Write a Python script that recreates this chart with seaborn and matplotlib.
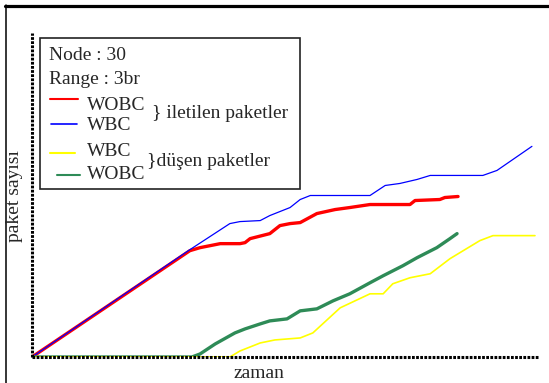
import matplotlib
matplotlib.use("Agg")
import matplotlib.pyplot as plt
from matplotlib.lines import Line2D
from matplotlib.patches import Rectangle
import seaborn as sns
import pandas as pd

# Delivered packets (iletilen) and dropped packets (düşen) over time
wobc_sent_t = [0, 31.2, 33.2, 37.2, 41.1, 42.1, 43.1, 47.0, 49.0, 51.0, 53.0,
               56.3, 59.9, 62.8, 66.8, 74.7, 75.7, 80.6, 81.6, 84.2]
wobc_sent_y = [0, 106, 109, 113, 113, 114, 118, 123, 131, 133, 134,
               143, 147, 149, 152, 152, 156, 157, 159, 160]

wbc_sent_t = [0, 31.2, 39.1, 41.1, 45.1, 47.0, 51.0, 53.0, 55.0, 66.8,
              69.8, 72.7, 76.1, 78.7, 89.1, 91.9, 98.8]
wbc_sent_y = [0, 107, 133, 135, 136, 141, 149, 157, 161, 161,
              171, 173, 177, 181, 181, 186, 210]

wobc_drop_t = [0, 31.6, 33.2, 36.2, 40.1, 42.1, 45.1, 47.0, 50.4, 53.0, 56.3,
               59.5, 62.8, 66.8, 69.4, 73.3, 76.1, 80.0, 82.6, 84.0]
wobc_drop_y = [0, 0, 3, 13, 24, 28, 33, 36, 38, 46, 48,
               56, 63, 74, 81, 91, 99, 109, 118, 123]

wbc_drop_t = [0, 39.1, 41.1, 45.1, 48.0, 53.0, 55.5, 60.9, 66.8, 69.4,
              71.3, 74.7, 78.7, 82.6, 88.5, 91.1, 99.4]
wbc_drop_y = [0, 0, 6, 14, 17, 19, 24, 49, 63, 63,
              73, 79, 83, 98, 116, 121, 121]

RED, BLUE, YELLOW, GREEN = "#ff0000", "#0000ff", "#ffff00", "#2e8b57"

sns.set_style("white")
plt.rcParams["font.family"] = ["Liberation Serif", "DejaVu Serif"]

W, H = 549, 383
fig = plt.figure(figsize=(W / 100, H / 100), dpi=100)
ax = fig.add_axes([32 / W, 1 - 357 / H, 506 / W, 324 / H])

series = [
    (wobc_sent_t, wobc_sent_y, RED, 2.4),
    (wbc_sent_t, wbc_sent_y, BLUE, 0.9),
    (wobc_drop_t, wobc_drop_y, GREEN, 2.4),
    (wbc_drop_t, wbc_drop_y, YELLOW, 1.2),
]
for t, y, c, lw in series:
    df = pd.DataFrame({"zaman": t, "paket": y})
    sns.lineplot(data=df, x="zaman", y="paket", color=c, linewidth=lw,
                 sort=False, estimator=None, ax=ax)

ax.set_xlim(0, 100)
ax.set_ylim(0, 323)
ax.set_xticks([])
ax.set_yticks([])
ax.set_xlabel("")
ax.set_ylabel("")
for side in ("top", "right"):
    ax.spines[side].set_visible(False)
for side in ("left", "bottom"):
    sp = ax.spines[side]
    sp.set_color("black")
    sp.set_linewidth(2.2)
    sp.set_linestyle((0, (0.9, 0.45)))
    sp.set_capstyle("butt")


def fx(px):
    return px / W


def fy(py):
    return 1 - py / H


fs = 14
fig.text(fx(259), fy(373), "zaman", fontsize=fs, ha="center", va="center")
fig.text(fx(15), fy(196), "paket sayısı", fontsize=fs, ha="center",
         va="center", rotation=90)

# outer frame
fig.add_artist(Line2D([fx(5), fx(549)], [fy(5.5), fy(5.5)], color="black",
                      linewidth=2.3, transform=fig.transFigure))
fig.add_artist(Line2D([fx(6), fx(6)], [fy(5), fy(383)], color="black",
                      linewidth=1.1, transform=fig.transFigure))

# legend box
fig.add_artist(Rectangle((fx(40), fy(189)), fx(300) - fx(40), fy(38) - fy(189),
                         transform=fig.transFigure, facecolor="white",
                         edgecolor="#222222", linewidth=1.2, zorder=5))

txt = dict(fontsize=fs, va="center", ha="left", zorder=6)
fig.text(fx(49), fy(55), "Node : 30", **txt)
fig.text(fx(49), fy(80), "Range : 3br", **txt)

handles = [
    (50, 78, 99, RED, 1.5, "WOBC", 87, 105),
    (51, 77, 124, BLUE, 1.2, "WBC", 87, 125),
    (50, 75, 153, YELLOW, 1.5, "WBC", 87, 151),
    (57, 80, 175, GREEN, 1.5, "WOBC", 87, 175),
]
for x0, x1, ly, c, lw, lab, tx, ty in handles:
    fig.add_artist(Line2D([fx(x0), fx(x1)], [fy(ly), fy(ly)], color=c,
                          linewidth=lw, transform=fig.transFigure, zorder=6))
    fig.text(fx(tx), fy(ty), lab, **txt)

fig.text(fx(152), fy(113), "} iletilen paketler", **txt)
fig.text(fx(147), fy(161), "}düşen paketler", **txt)

fig.savefig("out.png", dpi=100)
